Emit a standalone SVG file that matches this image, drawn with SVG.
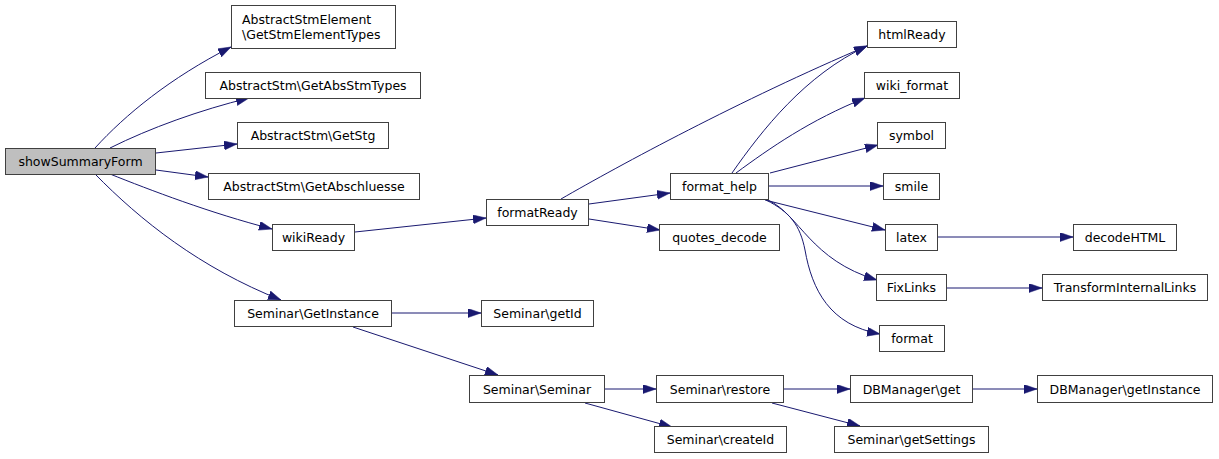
<svg xmlns="http://www.w3.org/2000/svg" width="1219" height="459" viewBox="0 0 1219 459">
<style>
.n rect{fill:#ffffff;stroke:#404040;stroke-width:1}
.n.root rect{fill:#bfbfbf}
.n text{font-family:"DejaVu Sans",sans-serif;font-size:12.5px;fill:#000000;text-anchor:middle}
.n text.l{text-anchor:start}
#edges path{fill:none;stroke:#191970;stroke-width:1;marker-end:url(#ah)}
</style>
<defs>
<marker id="ah" markerUnits="userSpaceOnUse" markerWidth="14" markerHeight="10" refX="13" refY="4.5" orient="auto">
<path d="M0,0 L13,4.5 L0,9 z" fill="#191970" stroke="#191970" stroke-width="0.5"/>
</marker>
</defs>
<rect width="1219" height="459" fill="#ffffff"/>
<g id="edges">
<path d="M95,148 C125,115 170,78 231,47"/>
<path d="M110,148 C150,128 200,110 249,98"/>
<path d="M156,153 L237,144"/>
<path d="M156,170 L208,177"/>
<path d="M110,174 C150,190 210,213 272,229"/>
<path d="M95,174 C140,220 200,268 281,300"/>
<path d="M355,232 L486,218"/>
<path d="M561,199 C620,165 740,100 867,46"/>
<path d="M589,204 L670,193"/>
<path d="M589,219 L660,230"/>
<path d="M732,173 C762,130 805,75 867,46"/>
<path d="M736,173 C770,148 810,120 865,98"/>
<path d="M770,173 L878,145"/>
<path d="M769,186 L883,186"/>
<path d="M765,200 L885,230"/>
<path d="M768,200 C800,215 810,260 877,280"/>
<path d="M766,200 C790,212 800,225 805,250 C812,290 830,325 880,334"/>
<path d="M938,237 L1073,237"/>
<path d="M947,288 L1042,288"/>
<path d="M392,313 L481,313"/>
<path d="M353,327 L498,375"/>
<path d="M605,389 L656,389"/>
<path d="M585,403 L672,427"/>
<path d="M783,389 L850,389"/>
<path d="M772,403 L860,426"/>
<path d="M973,389 L1037,389"/>
</g>
<g id="n_showSummaryForm" class="n root"><rect x="5.5" y="148.5" width="150" height="26"/><text x="80.5" y="165.5">showSummaryForm</text></g>
<g id="n_GetStmElementTypes" class="n"><rect x="231.5" y="5.5" width="164" height="43"/><text class="l" x="242" y="23.5">AbstractStmElement</text><text class="l" x="242" y="39">\GetStmElementTypes</text></g>
<g id="n_GetAbsStmTypes" class="n"><rect x="205.5" y="72.5" width="215" height="26"/><text x="313" y="90">AbstractStm\GetAbsStmTypes</text></g>
<g id="n_GetStg" class="n"><rect x="237.5" y="122.5" width="151" height="26"/><text x="313" y="140">AbstractStm\GetStg</text></g>
<g id="n_GetAbschluesse" class="n"><rect x="208.5" y="173.5" width="211" height="26"/><text x="314" y="191">AbstractStm\GetAbschluesse</text></g>
<g id="n_wikiReady" class="n"><rect x="272.5" y="224.5" width="82" height="26"/><text x="313.5" y="242">wikiReady</text></g>
<g id="n_GetInstance" class="n"><rect x="234.5" y="300.5" width="157" height="26"/><text x="313" y="318">Seminar\GetInstance</text></g>
<g id="n_formatReady" class="n"><rect x="486.5" y="199.5" width="102" height="26"/><text x="537.5" y="217">formatReady</text></g>
<g id="n_format_help" class="n"><rect x="670.5" y="173.5" width="98" height="26"/><text x="719.5" y="191">format_help</text></g>
<g id="n_quotes_decode" class="n"><rect x="659.5" y="224.5" width="120" height="26"/><text x="719.5" y="242">quotes_decode</text></g>
<g id="n_getId" class="n"><rect x="481.5" y="300.5" width="112" height="26"/><text x="537.5" y="318">Seminar\getId</text></g>
<g id="n_Seminar" class="n"><rect x="469.5" y="375.5" width="135" height="27"/><text x="537" y="393.5">Seminar\Seminar</text></g>
<g id="n_restore" class="n"><rect x="656.5" y="375.5" width="127" height="27"/><text x="720" y="393.5">Seminar\restore</text></g>
<g id="n_createId" class="n"><rect x="654.5" y="426.5" width="132" height="26"/><text x="720.5" y="444">Seminar\createId</text></g>
<g id="n_htmlReady" class="n"><rect x="867.5" y="21.5" width="89" height="26"/><text x="912" y="39">htmlReady</text></g>
<g id="n_wiki_format" class="n"><rect x="864.5" y="72.5" width="95" height="26"/><text x="912" y="90">wiki_format</text></g>
<g id="n_symbol" class="n"><rect x="877.5" y="122.5" width="68" height="26"/><text x="911.5" y="140">symbol</text></g>
<g id="n_smile" class="n"><rect x="883.5" y="173.5" width="56" height="26"/><text x="911.5" y="191">smile</text></g>
<g id="n_latex" class="n"><rect x="885.5" y="224.5" width="52" height="26"/><text x="911.5" y="242">latex</text></g>
<g id="n_FixLinks" class="n"><rect x="876.5" y="274.5" width="70" height="26"/><text x="911.5" y="292">FixLinks</text></g>
<g id="n_format" class="n"><rect x="879.5" y="325.5" width="65" height="26"/><text x="912" y="343">format</text></g>
<g id="n_DBget" class="n"><rect x="850.5" y="375.5" width="122" height="27"/><text x="911.5" y="393.5">DBManager\get</text></g>
<g id="n_getSettings" class="n"><rect x="834.5" y="426.5" width="154" height="26"/><text x="911.5" y="444">Seminar\getSettings</text></g>
<g id="n_decodeHTML" class="n"><rect x="1073.5" y="224.5" width="103" height="26"/><text x="1125" y="242">decodeHTML</text></g>
<g id="n_TransformInternalLinks" class="n"><rect x="1042.5" y="274.5" width="165" height="26"/><text x="1125" y="292">TransformInternalLinks</text></g>
<g id="n_DBgetInstance" class="n"><rect x="1037.5" y="375.5" width="175" height="27"/><text x="1125" y="393.5">DBManager\getInstance</text></g>
</svg>
